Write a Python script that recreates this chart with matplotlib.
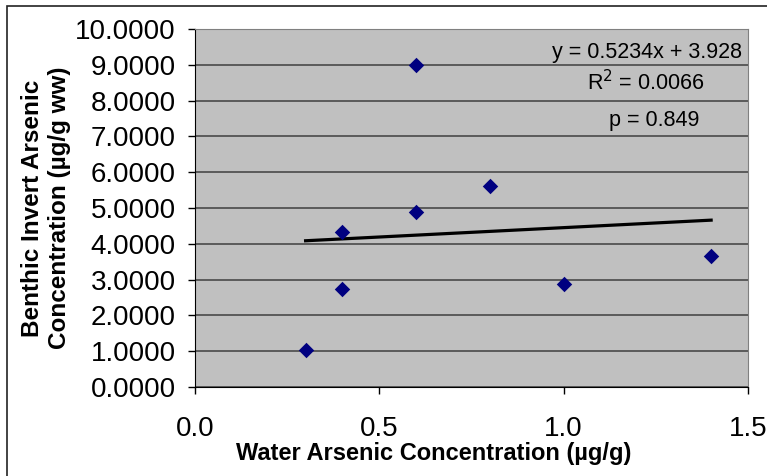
import numpy as np
import matplotlib
matplotlib.use("Agg")
import matplotlib.pyplot as plt
from matplotlib.patches import Rectangle

PLOT_BG = "#c0c0c0"
GRID    = "#404040"
FRAME   = "#808080"
NAVY    = "#000080"

plt.rcParams.update({
    "font.family": ["Liberation Sans", "DejaVu Sans"],
    "text.color": "black",
})

# water arsenic (ug/g) vs benthic invertebrate arsenic (ug/g ww)
water   = [0.3, 0.4, 0.4, 0.6, 0.6, 0.8, 1.0, 1.4]
benthic = [1.03, 4.34, 2.73, 9.0, 4.9, 5.62, 2.89, 3.67]
slope, intercept = 0.5234, 3.928
r2, pval = 0.0066, 0.849
yticks = np.arange(0, 11, 1.0)
xticks = [0.0, 0.5, 1.0, 1.5]

fig = plt.figure(figsize=(7.67, 4.76), dpi=100)
ax = fig.add_axes([195/767, 1 - 387/476, (748 - 195)/767, (387 - 29)/476])
ax.set_facecolor(PLOT_BG)

# chart-area border (only left/top fall inside the crop)
fig.patches.append(Rectangle((7/767, -0.1), 2, 1 - 6/476 + 0.1, transform=fig.transFigure,
                             fill=False, edgecolor="#222222", lw=1.2))

ax.set_xlim(0, 1.5)
ax.set_ylim(0, 10)
ax.set_yticks(yticks)
ax.set_xticks(xticks)
ax.set_yticklabels([f"{v:.4f}" for v in yticks])
ax.set_xticklabels([f"{v:.1f}" for v in xticks])
ax.yaxis.grid(True, color=GRID, lw=1.1)
ax.set_axisbelow(True)

ax.scatter(water, benthic, marker="D", s=62, color=NAVY, zorder=3, linewidths=0)
xl = np.array([min(water), max(water)])
ax.plot(xl, slope * xl + intercept, color="black", lw=2.3, zorder=2)

ax.text(0.99, 0.935, f"y = {slope}x + {intercept}", transform=ax.transAxes,
        ha="right", va="center", fontsize=15.5)
ax.text(0.815, 0.85, f"R$^2$ = {r2}", transform=ax.transAxes,
        ha="center", va="center", fontsize=15.5)
ax.text(0.83, 0.745, f"p = {pval}", transform=ax.transAxes,
        ha="center", va="center", fontsize=15.5)

for side in ("top", "right"):
    ax.spines[side].set_color(FRAME)
for side in ("left", "bottom"):
    ax.spines[side].set_color("black")
ax.tick_params(axis="y", direction="out", length=5, width=1, labelsize=20, pad=9)
ax.tick_params(axis="x", direction="out", length=5, width=1, labelsize=20, pad=16)

ax.set_xlabel("Water Arsenic Concentration (µg/g)", fontsize=17,
              fontweight="bold")
ax.xaxis.set_label_coords(0.432, -0.155)
ax.set_ylabel("Benthic Invert Arsenic\nConcentration (µg/g ww)", fontsize=17.5,
              fontweight="bold", labelpad=3, linespacing=1.2)

fig.savefig("out.png", dpi=100)
